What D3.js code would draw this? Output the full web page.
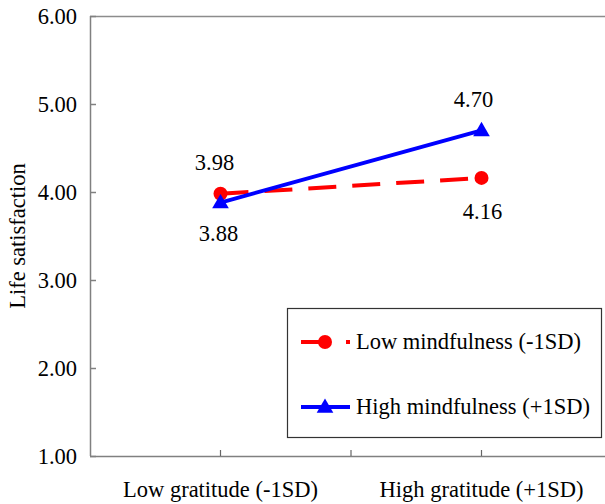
<!DOCTYPE html>
<html><head><meta charset="utf-8">
<script src="https://cdn.jsdelivr.net/npm/d3@7"></script>
<style>body{margin:0;background:#fff}svg{display:block}</style>
</head><body>
<script>
const categories = ["Low gratitude (-1SD)", "High gratitude (+1SD)"];
const lowMindfulness = [3.98, 4.16];
const highMindfulness = [3.88, 4.70];
const seriesNames = ["Low mindfulness (-1SD)", "High mindfulness (+1SD)"];
const yTicks = [1, 2, 3, 4, 5, 6];

const W = 605, H = 504;
const FS = "22.5px";
const m = {left: 90, top: 16, right: 612, bottom: 456};
const svg = d3.select("body").append("svg").attr("width", W).attr("height", H);

const x = d3.scaleBand().domain(categories).range([m.left, m.right]).padding(0);
const xc = c => x(c) + x.bandwidth() / 2;
const y = d3.scaleLinear().domain([1, 6]).range([m.bottom, m.top]);

// plot frame top
svg.append("line").attr("x1", m.left).attr("x2", m.right).attr("y1", m.top + 0.5).attr("y2", m.top + 0.5)
  .attr("stroke", "#8c8c8c").attr("stroke-width", 1.5);

// y axis
const yAxis = svg.append("g").attr("transform", `translate(${m.left},0)`)
  .call(d3.axisRight(y).tickValues(yTicks).tickSize(6).tickFormat(""));
yAxis.select(".domain").attr("stroke", "#808080").attr("stroke-width", 1.5).attr("d", `M0.5,${m.top}V${m.bottom}`);
yAxis.selectAll(".tick line").attr("stroke", "#808080").attr("stroke-width", 1.5);
svg.append("g").selectAll("text").data(yTicks).join("text")
  .attr("x", m.left - 13).attr("y", d => y(d) + 7.5).attr("text-anchor", "end")
  .text(d => d3.format(".2f")(d));

// x axis
const xTickPos = [xc(categories[0]), x(categories[1]), xc(categories[1])];
svg.append("line").attr("x1", m.left).attr("x2", m.right).attr("y1", m.bottom + 0.5).attr("y2", m.bottom + 0.5)
  .attr("stroke", "#808080").attr("stroke-width", 1.5);
svg.append("g").selectAll("line").data(xTickPos).join("line")
  .attr("x1", d => d).attr("x2", d => d).attr("y1", m.bottom).attr("y2", m.bottom - 6)
  .attr("stroke", "#666").attr("stroke-width", 1.2);
svg.append("g").selectAll("text").data(categories).join("text")
  .attr("x", d => xc(d)).attr("y", 497).attr("text-anchor", "middle")
  .text(d => d);

// y label
svg.append("text").attr("transform", `translate(25,${(m.top + m.bottom) / 2}) rotate(-90)`)
  .attr("text-anchor", "middle").text("Life satisfaction");

const line = d3.line().x((d, i) => xc(categories[i])).y(d => y(d));

// low mindfulness (red dashed, circles)
svg.append("path").datum(lowMindfulness).attr("d", line).attr("fill", "none")
  .attr("stroke", "#ff0000").attr("stroke-width", 4).attr("stroke-dasharray", "28,16");
svg.append("g").selectAll("circle").data(lowMindfulness).join("circle")
  .attr("cx", (d, i) => xc(categories[i])).attr("cy", d => y(d)).attr("r", 7).attr("fill", "#ff0000");

// high mindfulness (blue solid, triangles)
svg.append("path").datum(highMindfulness).attr("d", line).attr("fill", "none")
  .attr("stroke", "#0000ff").attr("stroke-width", 4);
const tri = d3.symbol().type(d3.symbolTriangle).size(120);
svg.append("g").selectAll("path").data(highMindfulness).join("path")
  .attr("transform", (d, i) => `translate(${xc(categories[i])},${y(d) + 1})`).attr("d", tri).attr("fill", "#0000ff");

// value labels
const lbl = svg.append("g");
lbl.append("text").attr("x", xc(categories[0]) - 6).attr("y", y(lowMindfulness[0]) - 24).attr("text-anchor", "middle").text(lowMindfulness[0].toFixed(2));
lbl.append("text").attr("x", xc(categories[0]) - 2).attr("y", y(highMindfulness[0]) + 38).attr("text-anchor", "middle").text(highMindfulness[0].toFixed(2));
lbl.append("text").attr("x", xc(categories[1]) - 8).attr("y", y(highMindfulness[1]) - 23).attr("text-anchor", "middle").text(highMindfulness[1].toFixed(2));
lbl.append("text").attr("x", xc(categories[1]) + 1).attr("y", y(lowMindfulness[1]) + 41).attr("text-anchor", "middle").text(lowMindfulness[1].toFixed(2));

// legend
const lg = svg.append("g");
lg.append("rect").attr("x", 287.5).attr("y", 308.5).attr("width", 314).attr("height", 129)
  .attr("fill", "#fff").attr("stroke", "#333").attr("stroke-width", 1.2);
const ly = [342, 407];
lg.append("line").attr("x1", 301).attr("x2", 322).attr("y1", ly[0]).attr("y2", ly[0]).attr("stroke", "#ff0000").attr("stroke-width", 4);
lg.append("rect").attr("x", 346).attr("y", ly[0] - 2).attr("width", 4).attr("height", 4).attr("fill", "#ff0000");
lg.append("circle").attr("cx", 325).attr("cy", ly[0]).attr("r", 7).attr("fill", "#ff0000");
lg.append("line").attr("x1", 301).attr("x2", 350).attr("y1", ly[1]).attr("y2", ly[1]).attr("stroke", "#0000ff").attr("stroke-width", 4);
lg.append("path").attr("transform", `translate(325,${ly[1] + 1})`).attr("d", tri).attr("fill", "#0000ff");
lg.selectAll("text.l").data(seriesNames).join("text").attr("class", "l")
  .attr("x", 356).attr("y", (d, i) => ly[i] + 7).text(d => d);

svg.selectAll("text").attr("font-size", FS).attr("fill", "#000")
  .style("font-family", "'Liberation Serif'");
</script>
</body></html>
